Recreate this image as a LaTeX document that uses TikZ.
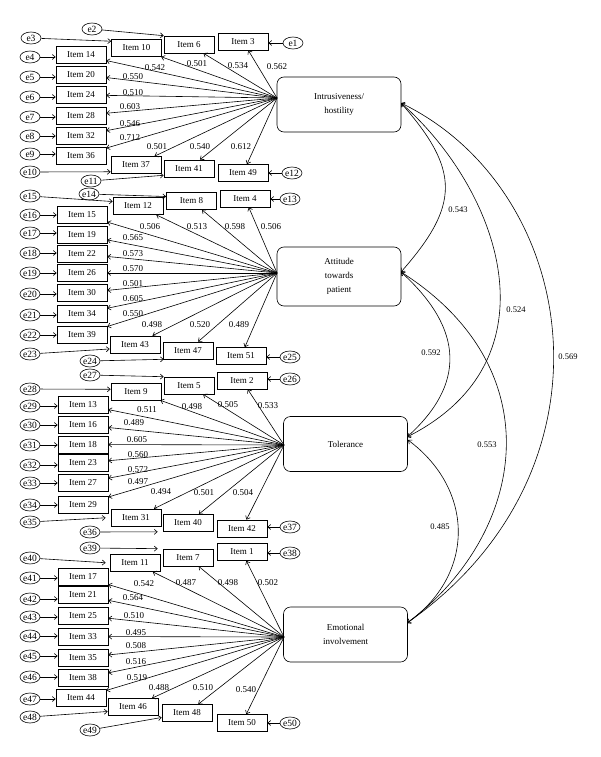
\documentclass[tikz,border=0pt]{standalone}
\usepackage{fontspec}
\setmainfont{Liberation Serif}
\usetikzlibrary{arrows.meta,shapes.geometric}
\begin{document}
\begin{tikzpicture}[x=1pt,y=-1pt,line width=0.6pt,
  item/.style={draw, minimum width=50pt, minimum height=17pt, inner sep=0pt, font=\fontsize{9}{10}\selectfont},
  err/.style={draw, ellipse, minimum width=20pt, minimum height=12pt, inner sep=0pt, font=\fontsize{9.5}{10}\selectfont},
  fac/.style={draw, rounded corners=7pt, minimum width=124pt, minimum height=55pt, align=center, font=\fontsize{9}{14}\selectfont},
  lab/.style={font=\fontsize{9}{10}\selectfont, inner sep=0pt},
  clab/.style={font=\fontsize{8.5}{10}\selectfont, inner sep=0pt},
  arr/.style={-{Straight Barb[length=3pt,width=5pt]}},
  darr/.style={{Straight Barb[length=3pt,width=5pt]}-{Straight Barb[length=3pt,width=5pt]}},
]
\useasboundingbox (0,0) rectangle (600,757);

% factors
\node[fac] (F1) at (339,104.5) {Intrusiveness/\\hostility};
\node[fac, minimum height=59pt] (F2) at (339,276.5) {Attitude\\towards\\patient};
\node[fac] (F3) at (345.5,444) {Tolerance};
\node[fac] (F4) at (345.5,634.5) {Emotional\\involvement};

\coordinate (p1) at (277,98);
\coordinate (p2) at (277,273);
\coordinate (p3) at (284,445);
\coordinate (p4) at (284,637);

% items
\foreach \n/\x/\y in {3/243/41.5, 6/189/44.5, 10/136.5/48, 14/81/55, 20/81/74.5, 24/81/95, 28/81/115.5, 32/81/135.5, 36/81/155.5, 37/136/165, 41/189/168.5, 49/243/173,
  4/245/198.5, 8/191.5/201, 12/138/206, 15/82/214.5, 19/82/235, 22/82/254, 26/82/273, 30/82/293, 34/82/313.5, 39/82/334.5, 43/135/344.5, 47/188/350.5, 51/241/356,
  2/242/380.5, 5/189/385.5, 9/136/391.5, 13/83/404.5, 16/83/425, 18/83/444.5, 23/83/463, 27/83/483, 29/83/504.5, 31/136/517.5, 40/188/523, 42/242/528.5,
  1/242/552, 7/188/557.5, 11/135/563, 17/83/577, 21/83/595, 25/83/615.5, 33/83/636.5, 35/83/657.5, 38/83/678, 44/81/698, 46/133/707, 48/187/713, 50/242/723}
  \node[item] (i\n) at (\x,\y) {Item \n};

% error terms
\foreach \n/\x/\y in {1/293/43, 2/92/29, 3/31/38, 4/30/57, 5/30/77, 6/30/97, 7/30/117, 8/30/136, 9/30/154, 10/30/172, 11/91/181, 12/292/173,
  13/290/199, 14/89/194, 15/30/196, 16/30/215, 17/30/233, 18/30/253, 19/30/273, 20/30/294, 21/30/315, 22/30/335, 23/30/354, 24/90/361, 25/290/357,
  26/290/379, 27/90/375, 28/30/389, 29/30/406, 30/30/425, 31/30/445, 32/30/465, 33/30/483, 34/30/505, 35/30/522, 36/90/532, 37/290/527,
  38/290/553, 39/90/548, 40/30/558, 41/30/578, 42/30/599, 43/30/617, 44/30/636, 45/30/656, 46/30/677, 47/30/699, 48/30/717, 49/90/730, 50/290/723}
  \node[err] (e\n) at (\x,\y) {e\n};

% error arrows, left column
\foreach \e/\i in {4/14,5/20,6/24,7/28,8/32,9/36,16/15,17/19,18/22,19/26,20/30,21/34,22/39,29/13,30/16,31/18,32/23,33/27,34/29,41/17,42/21,43/25,44/33,45/35,46/38,47/44}
  \draw[arr] (e\e) -- (e\e -| i\i.west);
% error arrows, right side
\foreach \e/\i in {1/3,12/49,13/4,25/51,26/2,37/42,38/1,50/50}
  \draw[arr] (e\e) -- (e\e -| i\i.east);
% error arrows, angled
\draw[arr] (e2) -- (i6.north west);
\draw[arr] (e3) -- (i10.165);
\draw[arr] (e10) -- (i37.195);
\draw[arr] (e11) -- (i41.195);
\draw[arr] (e14) -- (i8.170);
\draw[arr] (e15) -- (i12.170);
\draw[arr] (e23) -- (i43.190);
\draw[arr] (e24) -- (i47.200);
\draw[arr] (e27) -- (i5.north west);
\draw[arr] (e28) -- (i9.175);
\draw[arr, shorten >=5pt] (e35) -- (i31.west);
\draw[arr, shorten >=5pt] (e36) -- (i40.south west);
\draw[arr, shorten >=5pt] (e39) -- (i7.north west);
\draw[arr, shorten >=4pt] (e40) -- (i11.west);
\draw[arr] (e48) -- (i46.190);
\draw[arr] (e49) -- (i48.190);

% loadings
\foreach \i in {3,6,10,14,20,24,28,32,36,37,41,49} \draw[arr] (p1) -- (i\i);
\foreach \i in {4,8,12,15,19,22,26,30,34,39,43,47,51} \draw[arr] (p2) -- (i\i);
\foreach \i in {2,5,9,13,16,18,23,27,29,31,40,42} \draw[arr] (p3) -- (i\i);
\foreach \i in {1,7,11,17,21,25,33,35,38,44,46,48,50} \draw[arr] (p4) -- (i\i);

% loading labels
\foreach \v/\x/\y [count=\k] in {0.542/155/68, 0.501/197/64, 0.534/238/66, 0.562/277/67, 0.550/133/77, 0.510/133/93, 0.603/130/107, 0.546/130/124, 0.712/130/138, 0.501/157/147, 0.540/200/147, 0.612/241/147,
  0.506/150/227, 0.513/197/227, 0.598/235/227, 0.506/271/227, 0.565/133/238, 0.573/133/254, 0.570/133/269, 0.501/133/284, 0.605/133/299, 0.550/133/314, 0.498/152/325, 0.520/200/325, 0.489/239/325,
  0.511/147/410, 0.498/192/407, 0.505/228/405, 0.533/268/406, 0.489/134/423, 0.605/137/440, 0.560/138/455, 0.572/138/470, 0.497/138/482, 0.494/161/492, 0.501/204/493, 0.504/243/493,
  0.542/144/584, 0.487/186/583, 0.498/228/583, 0.502/268/583, 0.564/133/598, 0.510/134/616, 0.495/136/633, 0.508/136/646, 0.516/136/662, 0.519/137/678, 0.488/159/688, 0.510/203/688, 0.540/246/690}
  \node[lab] (L\k) at (\x,\y) {\v};

% correlations
\coordinate (r1) at (401,103);
\coordinate (r2) at (401,272);
\coordinate (r3) at (407,437);
\coordinate (r3b) at (408,440);
\coordinate (r4) at (407,623);
\draw[darr] (r1) .. controls (460,170) and (460,205) .. (r2);
\draw[darr] (r1) .. controls (500,190) and (560,360) .. (r3);
\draw[darr] (r1) .. controls (580,190) and (625,470) .. (r4);
\draw[darr] (r2) .. controls (465,330) and (465,385) .. (r3);
\draw[darr] (r2) .. controls (555,370) and (525,535) .. (r4);
\draw[darr] (r3b) .. controls (475,490) and (475,575) .. (r4);

\node[clab] (c1) at (458,210) {0.543};
\node[clab] (c2) at (516,310) {0.524};
\node[clab] (c3) at (568,357) {0.569};
\node[clab] (c4) at (431,353) {0.592};
\node[clab] (c5) at (487,445) {0.553};
\node[clab] (c6) at (440,527) {0.485};
\end{tikzpicture}
\end{document}
